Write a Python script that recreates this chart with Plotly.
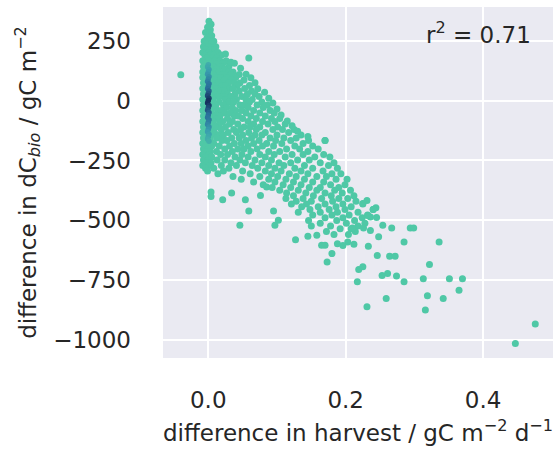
import plotly.graph_objects as go

# ---- data ----
# main cloud, written as rows: one dC_bio level per row, harvest differences along the row
rows_dcbio = [332, 319, 306, 296, 284, 271, 260, 248, 236, 225, 213, 201, 190, 178, 167, 155,
              143, 132, 120, 109, 97, 86, 74, 63, 51, 40, 28, 17, 5, -6, -18, -29, -41, -52,
              -64, -75, -87, -98, -110, -121, -133, -144, -156, -167, -179, -190, -202, -213,
              -225, -236, -248, -259, -271, -282, -294, -305, -317, -328, -340, -351, -363,
              -374, -386, -397, -409, -420, -432, -443, -455, -466, -478, -489, -501, -512,
              -524, -535, -547, -559]
rows_harvest = [
    [0.001],
    [0.004],
    [-0.001],
    [0.003],
    [-0.004, 0.002],
    [0.005],
    [-0.002, 0.003],
    [-0.006, 0.001, 0.008],
    [-0.003, 0.005],
    [-0.007, 0.000, 0.011],
    [-0.004, 0.004, 0.009],
    [-0.008, 0.001, 0.014],
    [-0.005, 0.003, 0.008, 0.019],
    [-0.002, 0.006, 0.012],
    [-0.008, 0.000, 0.009, 0.017, 0.026],
    [-0.004, 0.004, 0.013, 0.021],
    [-0.007, 0.001, 0.007, 0.018, 0.030],
    [-0.003, 0.005, 0.012, 0.024],
    [-0.008, 0.000, 0.010, 0.016, 0.029, 0.036],
    [-0.005, 0.003, 0.007, 0.021, 0.033, 0.045],
    [-0.008, 0.001, 0.012, 0.018, 0.027, 0.040],
    [-0.004, 0.004, 0.009, 0.023, 0.034, 0.052],
    [-0.007, 0.000, 0.015, 0.029, 0.038, 0.046],
    [-0.005, 0.003, 0.008, 0.020, 0.025, 0.042, 0.060],
    [-0.008, 0.001, 0.012, 0.031, 0.036, 0.053],
    [-0.004, 0.005, 0.017, 0.024, 0.045, 0.063],
    [-0.007, 0.000, 0.009, 0.028, 0.039, 0.057, 0.068],
    [-0.005, 0.003, 0.014, 0.021, 0.033, 0.049, 0.074],
    [-0.008, 0.001, 0.007, 0.025, 0.041, 0.055, 0.064],
    [-0.004, 0.004, 0.016, 0.030, 0.037, 0.060, 0.078],
    [-0.007, 0.000, 0.011, 0.022, 0.046, 0.052, 0.071, 0.086],
    [-0.005, 0.003, 0.008, 0.027, 0.035, 0.058, 0.080],
    [-0.008, 0.001, 0.014, 0.019, 0.040, 0.049, 0.066, 0.090],
    [-0.004, 0.005, 0.024, 0.032, 0.055, 0.075, 0.096],
    [-0.007, 0.000, 0.010, 0.017, 0.038, 0.044, 0.062, 0.083],
    [-0.005, 0.003, 0.013, 0.028, 0.050, 0.070, 0.092, 0.104],
    [-0.008, 0.001, 0.007, 0.021, 0.035, 0.058, 0.079, 0.097],
    [-0.004, 0.004, 0.016, 0.031, 0.043, 0.066, 0.087, 0.112],
    [-0.007, 0.000, 0.011, 0.025, 0.052, 0.061, 0.075, 0.101],
    [-0.005, 0.003, 0.019, 0.037, 0.047, 0.070, 0.094, 0.108, 0.125],
    [-0.008, 0.001, 0.009, 0.029, 0.041, 0.059, 0.083, 0.117],
    [-0.004, 0.004, 0.015, 0.022, 0.050, 0.068, 0.078, 0.100, 0.135],
    [-0.007, 0.000, 0.012, 0.034, 0.045, 0.063, 0.090, 0.110, 0.128],
    [-0.005, 0.003, 0.020, 0.027, 0.055, 0.074, 0.098, 0.120, 0.146, 0.170],
    [-0.008, 0.001, 0.008, 0.038, 0.048, 0.066, 0.085, 0.107, 0.138],
    [-0.004, 0.005, 0.016, 0.031, 0.058, 0.079, 0.095, 0.126, 0.152],
    [-0.007, 0.000, 0.024, 0.043, 0.052, 0.071, 0.114, 0.133, 0.160],
    [-0.005, 0.003, 0.012, 0.035, 0.062, 0.088, 0.104, 0.145],
    [-0.008, 0.001, 0.018, 0.028, 0.049, 0.075, 0.096, 0.122, 0.138, 0.168],
    [-0.004, 0.005, 0.039, 0.058, 0.083, 0.112, 0.155, 0.177],
    [-0.007, 0.000, 0.013, 0.024, 0.046, 0.068, 0.092, 0.130, 0.147],
    [-0.005, 0.004, 0.033, 0.054, 0.078, 0.103, 0.120, 0.163, 0.183],
    [-0.008, 0.002, 0.019, 0.041, 0.064, 0.088, 0.110, 0.140, 0.175],
    [-0.004, 0.008, 0.030, 0.072, 0.097, 0.126, 0.152, 0.188],
    [-0.001, 0.022, 0.050, 0.083, 0.106, 0.135, 0.167],
    [0.014, 0.061, 0.092, 0.118, 0.145, 0.180, 0.193],
    [0.036, 0.075, 0.101, 0.128, 0.158, 0.172],
    [0.048, 0.088, 0.113, 0.140, 0.186, 0.202],
    [0.066, 0.097, 0.124, 0.152, 0.168],
    [0.080, 0.109, 0.135, 0.178, 0.199],
    [0.093, 0.120, 0.147, 0.163, 0.190],
    [0.104, 0.131, 0.158, 0.184, 0.207],
    [0.114, 0.142, 0.170, 0.195],
    [0.124, 0.153, 0.179, 0.212],
    [0.113, 0.138, 0.165, 0.190, 0.203],
    [0.128, 0.150, 0.181, 0.215],
    [0.121, 0.143, 0.170, 0.196, 0.225],
    [0.136, 0.160, 0.186, 0.208],
    [0.148, 0.176, 0.199, 0.240],
    [0.131, 0.163, 0.188, 0.218],
    [0.152, 0.180, 0.205, 0.232],
    [0.170, 0.196, 0.224],
    [0.146, 0.187, 0.213],
    [0.163, 0.201, 0.228],
    [0.150, 0.178, 0.218],
    [0.192, 0.208],
    [0.172, 0.214],
    [0.183, 0.204],
]

# points along the upper-right edge of the cloud
edge_harvest = [0.025, 0.033, 0.047, 0.055, 0.062, 0.068, 0.072, 0.082, 0.088, 0.094, 0.100,
                0.106, 0.115, 0.122, 0.130, 0.145]
edge_dcbio = [195, 160, 135, 110, 95, 75, 50, 35, 10, -10, -35, -60, -85, -105, -128, -150]

# scattered points away from the dense cloud
scatter_harvest = [-0.040, 0.038, 0.059, 0.170, 0.004, 0.004, 0.021, 0.034, 0.054, 0.076, 0.085,
                   0.059, 0.095, 0.046, 0.097, 0.102, 0.127, 0.145, 0.158, 0.165, 0.170, 0.173,
                   0.180, 0.210, 0.226, 0.231, 0.244, 0.236, 0.236, 0.254, 0.267, 0.248, 0.294,
                   0.299, 0.285, 0.233, 0.225, 0.219, 0.217, 0.231, 0.246, 0.264, 0.272, 0.253,
                   0.261, 0.274, 0.285, 0.259, 0.313, 0.319, 0.316, 0.322, 0.336, 0.342, 0.351,
                   0.365, 0.370, 0.447, 0.476, 0.203, 0.212, 0.196, 0.188, 0.225, 0.240, 0.232,
                   0.245]
scatter_dcbio = [108, 156, 178, -167, -382, -400, -414, -386, -414, -396, -361,
                 -461, -461, -521, -521, -500, -581, -567, -562, -604, -604, -674,
                 -639, -532, -532, -417, -447, -486, -542, -521, -532, -569, -532,
                 -532, -590, -608, -694, -705, -757, -861, -647, -650, -650, -730,
                 -722, -733, -757, -826, -744, -815, -875, -685, -590, -826, -744,
                 -792, -744, -1014, -933, -590, -600, -605, -598, -430, -455, -480,
                 -488]

# densest part of the zero-harvest column (coloured by point density)
dense_harvest = [0.000, -0.001, 0.001, 0.000, -0.001, 0.001, 0.000, -0.001, 0.001, 0.000, -0.001,
                 0.001, 0.000, -0.001, 0.001, 0.000, -0.001, 0.001, 0.000, -0.001, 0.001, 0.000,
                 -0.001, 0.001, 0.000, -0.001, 0.001, 0.000, -0.001, 0.001, 0.000, -0.001, 0.001]
dense_dcbio = [150, 140, 130, 120, 110, 100, 90, 80, 70, 60, 50, 40, 30, 20, 10, 0, -10,
               -20, -30, -40, -50, -60, -70, -80, -90, -100, -110, -120, -130, -140, -150,
               -160, -170]
dense_level = [0.30, 0.35, 0.40, 0.45, 0.50, 0.55, 0.60, 0.65, 0.70, 0.72, 0.75, 0.80, 0.85,
               0.90, 0.95, 1.00, 1.00, 0.95, 0.90, 0.85, 0.80, 0.75, 0.72, 0.70, 0.65, 0.60,
               0.55, 0.50, 0.45, 0.40, 0.35, 0.30, 0.25]

r_squared = 0.71
x_ticks = [0.0, 0.2, 0.4]
x_ticklabels = ["0.0", "0.2", "0.4"]
y_ticks = [250, 0, -250, -500, -750, -1000]

# ---- build ----
cloud_x, cloud_y = [], []
for yv, xs in zip(rows_dcbio, rows_harvest):
    for xv in xs:
        cloud_x.append(xv)
        cloud_y.append(yv)
cloud_x += edge_harvest + scatter_harvest
cloud_y += edge_dcbio + scatter_dcbio

TEAL = "#4fc8a6"
FS = 23
TXT = "#262626"
fig = go.Figure()
fig.add_trace(go.Scatter(x=cloud_x, y=cloud_y, mode="markers",
                         marker=dict(size=7, color=TEAL, line=dict(width=0)),
                         hoverinfo="x+y"))
fig.add_trace(go.Scatter(x=dense_harvest, y=dense_dcbio, mode="markers",
                         marker=dict(size=5.5, color=dense_level, cmin=0, cmax=1,
                                     colorscale=[[0, TEAL], [0.45, "#3a9fae"],
                                                 [0.75, "#2a6f9a"], [1, "#16325f"]],
                                     line=dict(width=0)),
                         hoverinfo="x+y"))

fig.add_annotation(text=f"r<sup>2</sup> = {r_squared:.2f}", xref="paper", yref="paper",
                   x=0.949, y=0.926, xanchor="right", yanchor="middle", showarrow=False,
                   font=dict(family="DejaVu Sans", size=FS, color=TXT))

fig.update_layout(
    width=559, height=452,
    margin=dict(l=163, r=6, t=7, b=94),
    plot_bgcolor="#EAEAF2", paper_bgcolor="white",
    showlegend=False,
    font=dict(family="DejaVu Sans", size=FS, color=TXT),
)
fig.update_xaxes(range=[-0.0659, 0.5018], tickvals=x_ticks, ticktext=x_ticklabels,
                 tickfont=dict(family="DejaVu Sans", size=FS, color=TXT),
                 showgrid=True, gridcolor="white", gridwidth=1.5, zeroline=False,
                 showline=False, ticks="", ticklabelstandoff=26,
                 title=dict(text="difference in harvest / gC m<sup>\u22122</sup> d<sup>\u22121</sup>",
                            standoff=12, font=dict(family="DejaVu Sans", size=FS, color=TXT)))
fig.update_yaxes(range=[-1075, 391], tickvals=y_ticks,
                 tickfont=dict(family="DejaVu Sans", size=FS, color=TXT),
                 showgrid=True, gridcolor="white", gridwidth=1.5, zeroline=False,
                 showline=False, ticks="", ticklabelstandoff=31,
                 title=dict(text="difference in dC<sub><i>bio</i></sub> / gC m<sup>\u22122</sup>",
                            standoff=10, font=dict(family="DejaVu Sans", size=FS, color=TXT)))

fig.write_html("out.html")
